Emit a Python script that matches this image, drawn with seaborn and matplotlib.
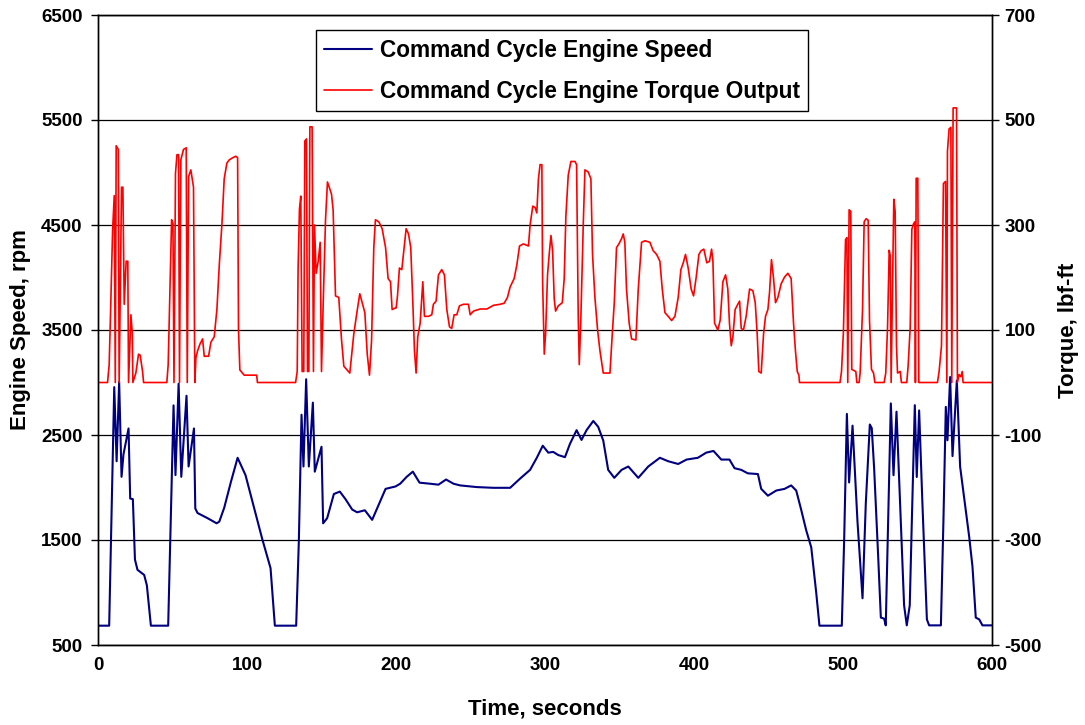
import matplotlib
matplotlib.use("Agg")
import matplotlib.pyplot as plt
import seaborn as sns
from matplotlib.lines import Line2D

# ---------------- data ----------------
speed_t = [0, 7.5, 10.9, 12.5, 14.2, 15.8, 17.1, 20.5, 21.6, 23.4,
           24.8, 26.5, 31, 32.8, 35.5, 47.1, 50.7, 52, 54.1, 55.9,
           59.4, 60.8, 64.4, 65.3, 66.8, 73.5, 79.6, 81.4, 84.7, 89.2,
           93.7, 99, 105.7, 110.2, 115.8, 118.7, 133, 134.8, 136.6, 137.9,
           139.7, 141.5, 144.2, 145.5, 150, 151.1, 153.8, 158.3, 162.3, 166.1,
           170.6, 173.9, 179.1, 184, 188.5, 193, 199.7, 202.8, 207.2, 211.3,
           215.8, 222.9, 228.5, 233.6, 238.6, 243, 254.2, 265.4, 276.6, 283.3,
           290, 294.5, 298.5, 302.2, 305.5, 308.9, 313.4, 316.7, 321.2, 324.5,
           327.9, 332.4, 335.7, 339.1, 342.4, 346.5, 351.4, 355.9, 362.6, 369.3,
           377.1, 382.7, 389.4, 395, 402.6, 408.2, 413.1, 418.3, 423.8, 427.2,
           431.7, 436.1, 442.9, 445.1, 449.6, 455.2, 460.8, 465.2, 468.6, 471.9,
           475.3, 478.7, 482, 484.2, 499.2, 500.8, 502.6, 504.1, 506.4, 509.7,
           513.1, 515.3, 518, 519.3, 520.9, 523.6, 525.4, 527.6, 528.7, 530.3,
           532.1, 533.9, 535.9, 538.8, 541, 542.8, 544.8, 546.2, 548.2, 549.5,
           551.1, 553.3, 556.3, 557.8, 565.7, 567.4, 569, 570.1, 571.9, 573.5,
           576.4, 578.6, 584.7, 586.9, 589.1, 591.4, 593.6, 600]
speed_rpm = [684, 684, 2956, 2250, 3005, 2102, 2316, 2562, 1895, 1889,
             1314, 1216, 1167, 1068, 684, 684, 2782, 2118, 2988, 2102,
             2874, 2200, 2562, 1800, 1757, 1708, 1659, 1675, 1807, 2053,
             2283, 2118, 1757, 1511, 1232, 684, 684, 1495, 2693, 2200,
             3031, 2200, 2808, 2151, 2388, 1659, 1708, 1938, 1961, 1889,
             1790, 1764, 1783, 1692, 1840, 1987, 2010, 2036, 2102, 2151,
             2046, 2036, 2027, 2076, 2036, 2020, 2004, 1997, 1997, 2085,
             2168, 2283, 2398, 2332, 2339, 2309, 2289, 2414, 2546, 2453,
             2546, 2634, 2578, 2447, 2168, 2092, 2168, 2200, 2092, 2200,
             2283, 2250, 2224, 2266, 2283, 2332, 2348, 2266, 2266, 2184,
             2168, 2135, 2128, 1987, 1922, 1971, 1987, 2020, 1971, 1790,
             1593, 1429, 1002, 684, 684, 1513, 2701, 2048, 2589, 1681,
             945, 1848, 2600, 2565, 2182, 1346, 761, 751, 687, 1681,
             2801, 2117, 2722, 1681, 878, 687, 878, 1681, 2784, 2100,
             2734, 1848, 744, 687, 687, 1681, 2768, 2450, 3052, 2299,
             3018, 2199, 1530, 1246, 761, 744, 687, 687]

torque_t = [0, 6.4, 7.5, 8.6, 9.8, 10.9, 11.6, 12.2, 13.6, 14.2,
            15.8, 16.7, 17.6, 18.9, 20, 20.5, 22.1, 23, 23.4, 25.4,
            27.2, 28.3, 29.9, 30.6, 46.2, 47.1, 48.5, 49.4, 50.3, 51,
            52, 53, 54.1, 54.7, 55.6, 57.4, 59.2, 59.9, 60.8, 62.3,
            64.1, 65, 65.7, 66.8, 68.4, 70.2, 71.3, 74.2, 75.8, 78,
            79.8, 81.4, 83.2, 84.7, 86.5, 88.1, 90.3, 92.5, 93.7, 94.3,
            95.2, 98.1, 106.5, 107, 132.6, 133.7, 134.3, 135.2, 136.1, 137,
            138.1, 138.8, 139.9, 140.6, 141.5, 142.2, 143.7, 144.6, 145.3, 146.4,
            147.8, 149.1, 150, 151.1, 152.7, 154, 156.7, 157.8, 159.4, 161.6,
            163.4, 165, 169, 171.7, 173.9, 175.7, 177.3, 179.1, 180.7, 182.2,
            183.6, 185.1, 186.2, 188.5, 190.7, 193, 194.7, 196.3, 197.4, 199.7,
            200.1, 201, 202.3, 203.9, 205, 206.8, 208.4, 209.9, 211.3, 212.4,
            213.5, 214.6, 216.2, 218, 219.1, 221.8, 224, 225.1, 226.9, 228.5,
            230.7, 232.5, 234.1, 235.9, 237.4, 239, 240.8, 242.6, 245.3, 248.6,
            249.8, 252, 256.5, 261, 265.4, 269.9, 272.6, 274.8, 276.6, 279.3,
            281.1, 282.9, 285.5, 288.9, 290, 291.8, 293.4, 294.5, 295.6, 296.7,
            297.9, 298.4, 299.5, 300.4, 301.7, 302.8, 304, 305.1, 306.2, 307.1,
            308.9, 311.6, 312.9, 314, 315.6, 317.4, 320.1, 321.2, 322.3, 323,
            324.1, 325.7, 326.8, 329, 330.8, 331.9, 333.5, 335.3, 336.9, 339.1,
            343.6, 345.1, 346.5, 348, 349.6, 351.4, 352.5, 353.6, 354.7, 356.5,
            358.1, 361, 362.6, 364.8, 367.1, 370.4, 372.6, 374.9, 377.1, 378.7,
            380.5, 382.7, 385, 387.2, 389.4, 391.2, 392.8, 394.3, 396.1, 398.1,
            399.7, 401.5, 403.3, 404.8, 406.6, 408.6, 410.4, 411.8, 412.7, 413.8,
            416, 417.6, 419.4, 421.2, 422.7, 423.8, 425, 426.1, 427.6, 429.4,
            430.6, 431.7, 433.2, 435, 437.3, 439.5, 441.1, 442.4, 443.5, 445.1,
            446.7, 448, 449.6, 450.7, 452, 453.4, 454.7, 456.3, 458.5, 460.8,
            463, 465.2, 466.8, 468.1, 469.3, 470.4, 470.8, 498, 499, 500.3,
            501.7, 502.6, 503.2, 504.1, 505.2, 505.9, 508.6, 509.3, 510.8, 511.5,
            513.1, 514.2, 515.5, 516.9, 517.8, 519.1, 520.5, 521.4, 527.6, 528.7,
            529.9, 531, 531.7, 532.3, 533.2, 534.1, 535, 535.9, 536.6, 538.4,
            539.2, 542.8, 543.7, 545.1, 546.2, 547.3, 548.2, 548.6, 549.1, 550.2,
            550.9, 563.4, 564.5, 566.1, 567.4, 568.8, 569.7, 570.1, 571.2, 572.4,
            573, 573.9, 576.2, 576.8, 577.9, 579.1, 580, 580.6, 600]
torque_lbft = [0, 0, 34, 152, 290, 356, 0, 451, 444, 0,
               372, 372, 149, 231, 231, 0, 129, 93, 0, 18,
               54, 52, 21, 0, 0, 34, 205, 310, 303, 0,
               398, 434, 434, 0, 424, 444, 447, 0, 392, 405,
               372, 0, 47, 60, 73, 83, 50, 50, 77, 87,
               139, 224, 303, 388, 418, 424, 428, 431, 428, 100,
               24, 14, 14, 0, 0, 21, 218, 330, 355, 21,
               21, 460, 464, 21, 21, 487, 487, 21, 300, 208,
               231, 267, 21, 146, 310, 382, 359, 329, 165, 162,
               83, 31, 18, 93, 136, 169, 152, 133, 54, 14,
               80, 257, 310, 306, 293, 257, 198, 192, 139, 142,
               142, 165, 218, 215, 244, 293, 283, 257, 152, 60,
               18, 87, 113, 192, 126, 126, 129, 149, 155, 205,
               215, 205, 139, 106, 103, 129, 129, 146, 149, 149,
               129, 136, 140, 140, 147, 149, 151, 162, 182, 198,
               224, 260, 264, 260, 300, 336, 333, 323, 388, 415,
               415, 192, 54, 93, 205, 244, 280, 251, 159, 136,
               146, 152, 198, 316, 395, 421, 421, 415, 126, 34,
               126, 303, 405, 401, 388, 244, 162, 100, 60, 18,
               18, 90, 152, 257, 264, 274, 283, 267, 178, 113,
               83, 81, 178, 267, 270, 267, 251, 244, 231, 178,
               133, 126, 118, 126, 162, 215, 228, 244, 218, 178,
               165, 201, 244, 251, 254, 228, 231, 254, 231, 113,
               100, 119, 192, 205, 178, 113, 70, 87, 139, 149,
               155, 103, 100, 126, 178, 175, 152, 93, 21, 18,
               93, 126, 139, 172, 234, 198, 152, 162, 188, 201,
               208, 198, 113, 60, 21, 14, 0, 0, 21, 98,
               272, 276, 0, 329, 326, 25, 21, 0, 0, 18,
               138, 306, 312, 309, 118, 25, 18, 0, 0, 18,
               105, 252, 242, 0, 179, 349, 326, 70, 18, 21,
               0, 0, 31, 105, 292, 302, 306, 0, 389, 389,
               0, 0, 21, 70, 379, 383, 0, 440, 483, 486,
               0, 523, 523, 0, 15, 11, 21, 0, 0]

x_ticks = [0, 100, 200, 300, 400, 500, 600]
speed_ticks = [500, 1500, 2500, 3500, 4500, 5500, 6500]
torque_ticks = [-500, -300, -100, 100, 300, 500, 700]

speed_label = "Command Cycle Engine Speed"
torque_label = "Command Cycle Engine Torque Output"

# ---------------- style ----------------
sns.set_style("white")
plt.rcParams['font.family'] = ['Liberation Sans', 'DejaVu Sans']
plt.rcParams['font.weight'] = 'bold'
plt.rcParams['axes.labelweight'] = 'bold'
plt.rcParams['axes.unicode_minus'] = False
for key in ('text.color', 'axes.labelcolor', 'xtick.color', 'ytick.color',
            'axes.edgecolor'):
    plt.rcParams[key] = 'black'

BLUE = '#000080'
RED = '#FF0000'

fig = plt.figure(figsize=(10.85, 7.25), dpi=100)
ax = fig.add_axes([98 / 1085, 80 / 725, 894 / 1085, 630 / 725])
ax2 = ax.twinx()

sns.lineplot(x=speed_t, y=speed_rpm, ax=ax, color=BLUE, linewidth=1.5,
             estimator=None, sort=False, legend=False)
sns.lineplot(x=torque_t, y=torque_lbft, ax=ax2, color=RED, linewidth=1.2,
             estimator=None, sort=False, legend=False)

ax.set_xlim(0, 600)
ax.set_ylim(500, 6500)
ax2.set_ylim(-500, 700)
ax.set_xticks(x_ticks)
ax.set_yticks(speed_ticks)
ax2.set_yticks(torque_ticks)

ax.grid(axis='y', color='black', linewidth=0.9)
ax.grid(axis='x', visible=False)
ax2.grid(False)
ax.set_axisbelow(True)

for a in (ax, ax2):
    for s in a.spines.values():
        s.set_visible(True)
        s.set_color('black')
        s.set_linewidth(1.0)

ax.tick_params(axis='y', direction='out', length=5, width=1, colors='black',
               labelsize=13.5, pad=6)
ax.tick_params(axis='x', direction='out', length=5, width=1, colors='black',
               labelsize=13.5, pad=4)
ax2.tick_params(axis='y', direction='out', length=5, width=1, colors='black',
                labelsize=13.5, pad=4)
for lab in ax.get_xticklabels() + ax.get_yticklabels() + ax2.get_yticklabels():
    lab.set_fontweight('bold')

ax.set_xlabel("Time, seconds", fontsize=16, fontweight='bold', color='black')
ax.set_ylabel("Engine Speed, rpm", fontsize=16, fontweight='bold', color='black')
ax2.set_ylabel("Torque, lbf-ft", fontsize=16, fontweight='bold', color='black')
ax.xaxis.set_label_coords(0.5, -0.085)
ax.yaxis.set_label_coords(-0.075, 0.5)
ax2.yaxis.set_label_coords(1.074, 0.5)

handles = [Line2D([], [], color=BLUE, linewidth=1.5),
           Line2D([], [], color=RED, linewidth=1.2)]
leg = ax2.legend(handles, [speed_label, torque_label], loc='upper center',
                 bbox_to_anchor=(0.519, 0.976), frameon=True, fancybox=False,
                 edgecolor='black', framealpha=1,
                 prop={'weight': 'bold', 'size': 16.3},
                 borderpad=0.38, handlelength=2.1, handletextpad=0.36,
                 labelspacing=0.8, borderaxespad=0)
leg.get_frame().set_linewidth(1.0)
for t in leg.get_texts():
    t.set_color('black')

fig.savefig("out.png", dpi=100)
